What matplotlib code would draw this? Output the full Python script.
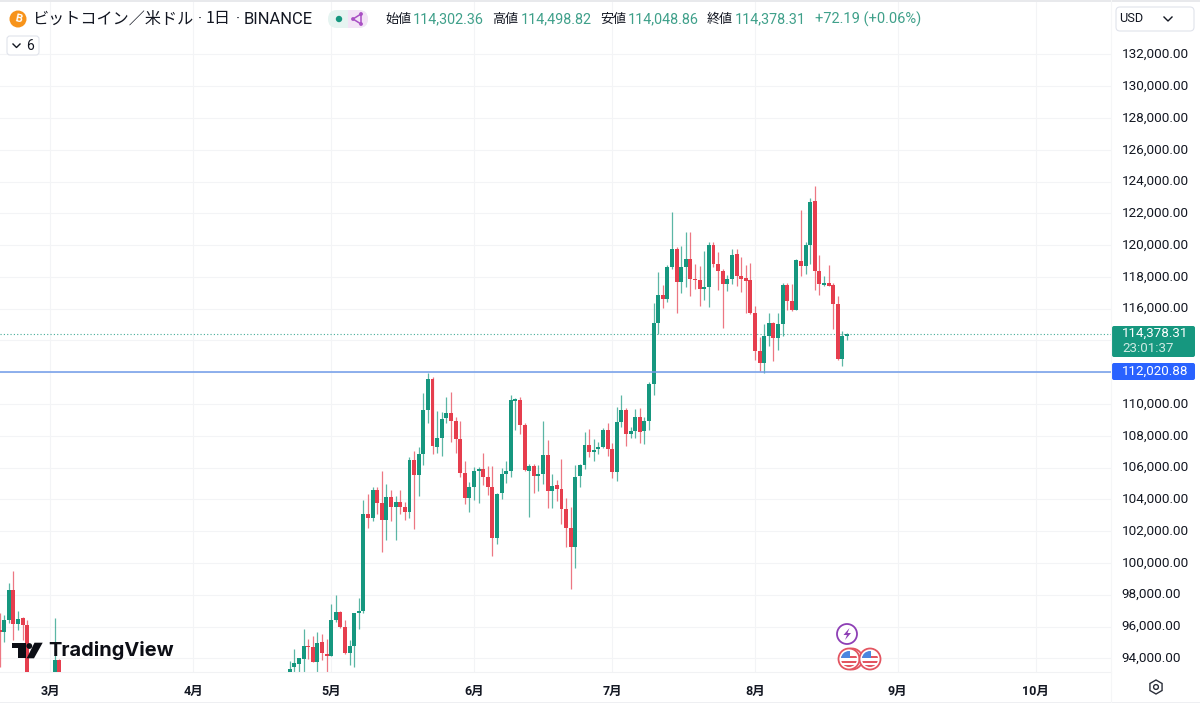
import matplotlib
matplotlib.use("Agg")
import matplotlib.pyplot as plt
from matplotlib.patches import Circle, FancyBboxPatch, Rectangle, Polygon, RegularPolygon, Wedge
from matplotlib.transforms import ScaledTranslation

plt.rcParams['font.family'] = ['Roboto', 'Noto Sans CJK JP', 'DejaVu Sans']

# candle data (days counted from 1 March)
days = [-11, -10, -9, -8, -7, -6, -5, 1, 2] + list(range(52, 174))

opens = [95780, 95670, 96410, 98280, 96150, 96510, 96090, 92800, 93890,
         93000, 93430, 93660, 93940, 94750, 94710, 93790, 95050, 94270, 94170,
         96430, 96940, 95970, 94310, 94750, 96850, 97000, 103090, 102840, 104600,
         103780, 102710, 104120, 103530, 103810, 103510, 103200, 106470, 105550, 106830,
         109620, 111570, 107310, 107840, 109120, 109450, 108950, 107820, 105650, 104060,
         104770, 105800, 105910, 105420, 104750, 101600, 104400, 105570, 105800, 110210,
         110250, 108680, 105800, 106100, 105490, 105570, 106790, 104520, 104880, 104630,
         103370, 102190, 101010, 105450, 106160, 107400, 107000, 107150, 107310, 108360,
         107170, 105720, 108850, 109620, 108090, 108300, 109200, 108280, 108950, 111260,
         115130, 116880, 116580, 118600, 119750, 117670, 118600, 119100, 117860, 117800,
         117210, 117380, 119980, 118790, 118370, 117550, 117840, 119420, 118050, 117950,
         117800, 115760, 113330, 112590, 114290, 115110, 114150, 115030, 117480, 116500,
         115950, 119020, 118680, 120000, 122760, 118390, 117480, 117610, 117480, 116290,
         112840, 114302.36]

highs = [96830, 96720, 98720, 99490, 96970, 96620, 96410, 96510, 93950,
         93810, 94610, 94020, 95870, 95240, 95410, 95640, 95510, 95240, 97400,
         97990, 96980, 96390, 95170, 96880, 97800, 103950, 104370, 104750, 104750,
         105760, 105000, 104580, 104200, 104580, 103850, 106680, 107060, 107270, 110710,
         111930, 111680, 109560, 109520, 110460, 110740, 109200, 108930, 106410, 105090,
         106010, 106010, 106890, 106100, 106100, 104420, 105950, 106430, 110550, 110360,
         110420, 108780, 106220, 106220, 106160, 108950, 107730, 105570, 105210, 106520,
         104100, 103490, 106160, 106200, 108220, 108410, 107780, 107630, 108470, 108780,
         107520, 109790, 110590, 109770, 108570, 109670, 109730, 109160, 111410, 116390,
         118280, 117480, 118740, 122060, 119900, 119940, 120820, 120800, 118790, 118680,
         119630, 120210, 120210, 119580, 118470, 118110, 119730, 119750, 119270, 118720,
         118850, 116200, 114190, 115030, 115760, 115170, 115740, 117630, 117590, 117550,
         119100, 122210, 120190, 122940, 123740, 119350, 118070, 118740, 117590, 116770,
         114610, 114498.82]

lows = [93470, 95040, 96200, 95150, 95780, 95150, 92000, 92500, 92500,
        92900, 92900, 92900, 92900, 93980, 93770, 92900, 93870, 92900, 94170,
        96290, 95910, 94290, 93600, 93450, 95850, 96880, 102230, 102670, 103110,
        100680, 101430, 102650, 101450, 103070, 102730, 102860, 102150, 104230, 106160,
        108780, 106830, 106930, 106750, 108820, 107610, 106890, 105420, 103700, 103220,
        103950, 103780, 104900, 104270, 100450, 101220, 104000, 105050, 105380, 108360,
        108090, 105800, 102900, 104420, 104540, 105000, 103430, 103430, 103910, 102480,
        101010, 98390, 99690, 104750, 105890, 106640, 106430, 106850, 107210, 106730,
        105340, 105170, 108570, 107380, 107840, 107840, 107570, 107460, 108360, 110570,
        114380, 116060, 116410, 118530, 115740, 116960, 117380, 116810, 117270, 116200,
        116540, 116120, 118600, 117170, 114800, 117090, 117550, 117420, 117060, 115760,
        115660, 112760, 112090, 111960, 113640, 112700, 113390, 114310, 115910, 115870,
        115950, 118070, 118180, 118810, 117170, 116850, 117420, 117420, 114710, 112760,
        112380, 114048.86]

closes = [95670, 96410, 98280, 96150, 96470, 96090, 92500, 93890, 92800,
          93350, 93730, 94000, 94780, 94710, 93790, 94960, 94330, 94150, 96430,
          96940, 95970, 94360, 94750, 96830, 96980, 103090, 102840, 104600, 103780,
          102710, 104120, 103550, 103810, 103510, 103200, 106470, 105550, 106850, 109620,
          111570, 107350, 107860, 109080, 109450, 108950, 107820, 105650, 104060, 104770,
          105780, 105900, 105420, 104750, 101600, 104370, 105570, 105780, 110250, 110320,
          108680, 105820, 106100, 105470, 105570, 106810, 104500, 104860, 104630, 103370,
          102190, 101010, 105420, 106140, 107400, 106960, 107100, 107310, 108360, 107170,
          105720, 108850, 109620, 108090, 108300, 109200, 108260, 108910, 111260, 115130,
          116880, 116580, 118640, 119730, 117670, 118620, 119100, 117860, 117800, 117230,
          117380, 119980, 118790, 118370, 117550, 117840, 119400, 118050, 117900, 117760,
          115760, 113330, 112590, 114290, 115070, 114150, 115030, 117480, 116500, 115950,
          119060, 118680, 120000, 122730, 118390, 117530, 117610, 117460, 116290, 112820,
          114270, 114378.31]

month_days = [0, 31, 61, 92, 122, 153, 184, 214]
month_labels = ["3月", "4月", "5月", "6月", "7月", "8月", "9月", "10月"]
price_ticks = list(range(94000, 134000, 2000))
# these two levels are covered by the last price and line labels
covered_ticks = [112000, 114000]
last_price = 114378.31
alert_price = 112020.88

GREEN = "#16977f"
RED = "#e63e4e"
GRID = "#f3f4f6"
TEXT = "#131722"
CJK = ["Noto Sans CJK JP", "DejaVu Sans"]

W, H = 1200, 703
fig = plt.figure(figsize=(W / 100, H / 100), dpi=100)

# main chart pane, ends at the price scale and the time scale
ax = fig.add_axes([0, 1 - 672 / H, 1111 / W, 672 / H])
ax.set_xlim(-10.9, 230.3)
ax.set_ylim(93138, 135427)
for side in ["top", "left", "right"]:
    ax.spines[side].set_visible(False)
ax.spines["bottom"].set_color("#f1f2f4")
ax.spines["bottom"].set_linewidth(0.8)

ax.set_xticks(month_days)
ax.set_xticklabels(month_labels, fontsize=9, color=TEXT, fontweight="bold")
ax.yaxis.tick_right()
ax.set_yticks(price_ticks)
ax.set_yticklabels(["" if p in covered_ticks else f"{p:,.2f}" for p in price_ticks],
                   fontsize=9.7, color=TEXT, ha="left")
ax.tick_params(axis="x", length=0, pad=9)
ax.tick_params(axis="y", length=0, pad=7.5)
# price labels sit a little above their gridlines
for label in ax.get_yticklabels():
    label.set_transform(label.get_transform() + ScaledTranslation(0, 1.5 / 100, fig.dpi_scale_trans))
ax.grid(True, color=GRID, linewidth=0.8)
ax.set_axisbelow(True)

colors = [GREEN if c >= o else RED for o, c in zip(opens, closes)]
ax.vlines(days, lows, highs, colors=colors, linewidth=0.9, alpha=0.7, zorder=2)
ax.bar(days, [abs(c - o) for o, c in zip(opens, closes)],
       bottom=[min(o, c) for o, c in zip(opens, closes)],
       width=0.86, color=colors, linewidth=0, zorder=3)

# last price and the drawn horizontal line
ax.axhline(last_price, color=GREEN, linewidth=0.8, linestyle=(0, (1, 2)), alpha=0.8, zorder=1)
ax.axhline(alert_price, color="#6f9ae8", linewidth=1.1, zorder=4)

# overlay in pixel coordinates for header, labels and icons
ov = fig.add_axes([0, 0, 1, 1])
ov.set_xlim(0, W)
ov.set_ylim(H, 0)
ov.axis("off")
ov.patch.set_alpha(0)


def box(x0, y0, x1, y1, face, edge="none", r=3):
    ov.add_patch(FancyBboxPatch((x0 + r, y0 + r), x1 - x0 - 2 * r, y1 - y0 - 2 * r,
                                boxstyle=f"round,pad={r},rounding_size={r}",
                                fc=face, ec=edge, lw=0.8))


ov.add_patch(Rectangle((0, 0), W, 1.5, fc="#e8e9ec", ec="none"))
ov.add_patch(Rectangle((0, 701.5), W, 1.5, fc="#eeeff2", ec="none"))
ov.plot([1111, 1111], [0, 703], color="#f5f6f7", lw=0.8)

# header line, no installed font has the bitcoin sign so a slanted B stands in
ov.add_patch(Circle((18, 19), 8.5, fc="#f7931a", ec="none"))
ov.text(18, 19, "B", color="white", fontsize=8, ha="center", va="center",
        fontweight="bold", rotation=-12)
ov.text(32, 19, "ビットコイン／米ドル", fontsize=11.6, color=TEXT, va="center", family=CJK)
ov.text(197.5, 19, "·", fontsize=11.6, color=TEXT, va="center", family="Roboto")
ov.text(206, 19, "1日", fontsize=11.6, color=TEXT, va="center", family=CJK)
ov.text(235.5, 19, "·", fontsize=11.6, color=TEXT, va="center", family="Roboto")
ov.text(243.5, 19, "BINANCE", fontsize=11.9, color=TEXT, va="center", family="Roboto")

box(328, 10, 368, 28, "#e6f4f1", r=9)
ov.add_patch(Wedge((359, 19), 9, -90, 90, fc="#f3e3f6", ec="none"))
ov.add_patch(Rectangle((348, 10), 11, 18, fc="#f3e3f6", ec="none"))
ov.add_patch(Circle((339, 19), 3.2, fc=GREEN, ec="none"))
ov.plot([361, 353, 361, 361], [14, 19, 24, 14], color="#a94fc4", lw=1.1)
for px, py in [(361, 14), (353, 19), (361, 24)]:
    ov.add_patch(Circle((px, py), 1.9, fc="#a94fc4", ec="none"))

legend_labels = [(385.5, "始値"), (492, "高値"), (600, "安値"), (707, "終値")]
legend_values = [(412.5, "114,302.36"), (520.5, "114,498.82"), (628, "114,048.86"), (735, "114,378.31")]
for lx, s in legend_labels:
    ov.text(lx, 19, s, fontsize=9.4, color=TEXT, va="center", family=CJK)
for lx, s in legend_values:
    ov.text(lx, 19, s, fontsize=10.4, color="#3fa08a", va="center")
ov.text(815, 19, "+72.19 (+0.06%)", fontsize=10.5, color="#3fa08a", va="center")

# collapse button
box(7, 36, 39, 55, "white", "#e0e3eb", r=3)
ov.plot([13, 16.5, 20], [44, 47.5, 44], color=TEXT, lw=1)
ov.text(30, 45.5, "6", fontsize=10, color=TEXT, ha="center", va="center")

# currency button
box(1116, 7, 1194, 31, "white", "#e0e3eb", r=4)
ov.text(1119, 19, "USD", fontsize=9.2, color=TEXT, va="center")
ov.plot([1164, 1168, 1172], [17, 21, 17], color=TEXT, lw=1)

# price scale labels
box(1112, 326, 1195, 357, GREEN, r=2)
ov.text(1122, 333.5, f"{last_price:,.2f}", fontsize=9.6, color="white", va="center")
ov.text(1122, 348, "23:01:37", fontsize=9.6, color="#cdeae3", va="center")
box(1112, 363, 1195, 380, "#2962ff", r=2)
ov.text(1122, 371, f"{alert_price:,.2f}", fontsize=9.6, color="white", va="center")

# TradingView logo
ov.add_patch(Rectangle((12.3, 642.7), 13.4, 5.6, fc="#0c0e15", ec="none"))
ov.add_patch(Rectangle((18.3, 648), 7.4, 10.3, fc="#0c0e15", ec="none"))
ov.add_patch(Circle((29.3, 646), 2.9, fc="#0c0e15", ec="none"))
ov.add_patch(Polygon([(34.5, 642.7), (42.7, 642.7), (34, 658.3), (26.7, 658.3)], fc="#0c0e15", ec="none"))
ov.text(48, 651, "TradingView", fontsize=14.4, color="#0c0e15", va="center", fontweight="bold", family="Inter")

# event icons above the time scale
ov.add_patch(Circle((847, 634), 10, fc="white", ec="#8e3fb5", lw=1.3))
ov.add_patch(Polygon([(849.5, 628), (843.5, 635), (847, 635), (845, 640), (851, 633), (847.5, 633)],
                     fc="#8e3fb5", ec="none"))
for fx in [852, 849, 870]:
    ring = Circle((fx, 659), 10.5, fc="white", ec="#e35561", lw=1.3)
    ov.add_patch(ring)
    inner = Circle((fx, 659), 8, fc="white", ec="none")
    ov.add_patch(inner)
    parts = [Rectangle((fx - 8, 656), 16, 2.2, fc="#e35561", ec="none"),
             Rectangle((fx - 8, 661), 16, 2.2, fc="#e35561", ec="none"),
             Rectangle((fx - 8, 665), 16, 2.2, fc="#e35561", ec="none"),
             Rectangle((fx - 8, 650), 8.5, 8, fc="#4a86e0", ec="none")]
    for part in parts:
        ov.add_patch(part)
        part.set_clip_path(inner)

# settings gear
ov.add_patch(RegularPolygon((1156, 687), 6, radius=7, fc="white", ec="#2a2e39", lw=1))
ov.add_patch(Circle((1156, 687), 2.4, fc="white", ec="#2a2e39", lw=1))

fig.savefig("out.png", dpi=100)
